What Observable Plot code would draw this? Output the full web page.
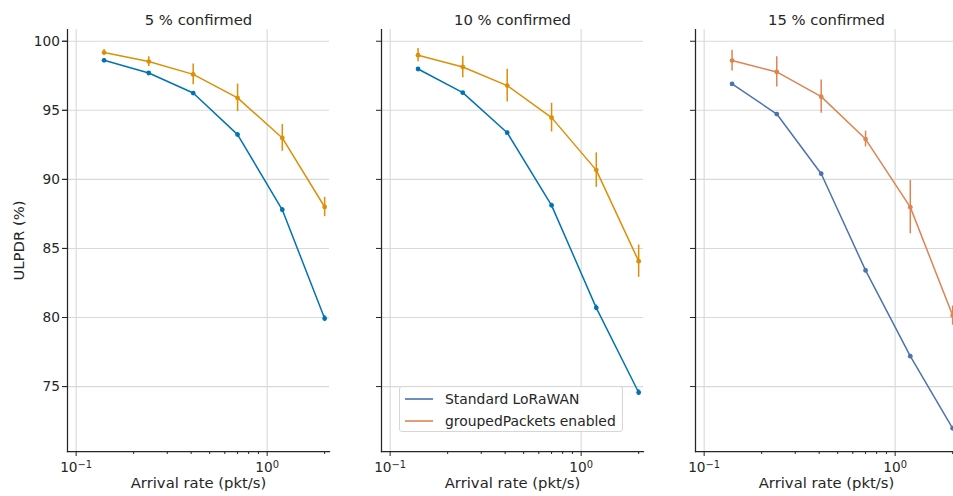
<!DOCTYPE html>
<html>
<head>
<meta charset="utf-8">
<script src="https://cdn.jsdelivr.net/npm/d3@7"></script>
<script src="https://cdn.jsdelivr.net/npm/@observablehq/plot@0.6"></script>
<style>
  html, body { margin: 0; padding: 0; background: #fff; overflow: hidden; }
  #wrap { position: relative; width: 953px; height: 496px; overflow: hidden; font-family: "DejaVu Sans", sans-serif; }
  #wrap > svg { max-width: none !important; }
  #legend { position: absolute; left: 399px; top: 386px; width: 222px; height: 44px;
    border: 1px solid #d6d6d6; border-radius: 3px; background: rgba(255,255,255,0.85);
    font-size: 13.9px; color: #262626; }
  .item { position: absolute; left: 0; height: 20px; width: 100%; }
  .sw { position: absolute; left: 5px; top: 0; }
  .lab { position: absolute; left: 45px; top: 1px; white-space: nowrap; line-height: 18px; }
</style>
</head>
<body>
<div id="wrap"></div>
<script>
// ---- data ----
const confirmedPct = [5, 10, 15];
const seriesNames = ["Standard LoRaWAN", "groupedPackets enabled"];
const rates = [0.14, 0.24, 0.41, 0.7, 1.2, 2.0];

const std5 = [98.62, 97.70, 96.25, 93.24, 87.80, 79.93];
const std5Err = [0.10, 0.10, 0.10, 0.15, 0.15, 0.20];
const grp5 = [99.18, 98.53, 97.60, 95.90, 93.00, 88.00];
const grp5Err = [0.22, 0.35, 0.75, 1.00, 0.97, 0.70];

const std10 = [97.99, 96.28, 93.38, 88.12, 80.70, 74.57];
const std10Err = [0.10, 0.10, 0.10, 0.15, 0.20, 0.20];
const grp10 = [98.99, 98.14, 96.79, 94.47, 90.67, 84.08];
const grp10Err = [0.48, 0.78, 1.18, 1.04, 1.25, 1.17];

const std15 = [96.91, 94.73, 90.41, 83.41, 77.20, 71.98];
const std15Err = [0.08, 0.10, 0.10, 0.15, 0.12, 0.15];
const grp15 = [98.60, 97.78, 95.99, 92.92, 87.99, 80.14];
const grp15Err = [0.75, 1.10, 1.20, 0.57, 1.93, 0.70];

const yTicks = [75, 80, 85, 90, 95, 100];
const xMajorTicks = [0.1, 1];
const xMajorExponents = ["\u22121", "0"];
const xMinorTicks = [0.2, 0.3, 0.4, 0.5, 0.6, 0.7, 0.8, 0.9, 2];
const yLabel = "ULPDR (%)";
const xLabel = "Arrival rate (pkt/s)";

// ---- styles ----
const palettes = [["#0173b2", "#de8f05"], ["#0173b2", "#de8f05"], ["#4c72b0", "#dd8452"]];
const legendColors = ["#4c72b0", "#dd8452"];
const ink = "#262626";
const gridColor = "#d9d9d9";

const means = [[std5, grp5], [std10, grp10], [std15, grp15]];
const errs = [[std5Err, grp5Err], [std10Err, grp10Err], [std15Err, grp15Err]];

const rows = [];
confirmedPct.forEach((p, pi) => {
  seriesNames.forEach((s, si) => {
    rates.forEach((r, ri) => {
      const m = means[pi][si][ri], e = errs[pi][si][ri];
      rows.push({panel: p, series: s, rate: r, mean: m, lo: m - e, hi: m + e, color: palettes[pi][si]});
    });
  });
});

const W = 957;
const chart = Plot.plot({
  width: W,
  height: 496,
  marginLeft: 67,
  marginRight: 0,
  marginTop: 29,
  marginBottom: 45,
  style: {fontFamily: "DejaVu Sans, sans-serif", color: ink, background: "transparent", maxWidth: "none"},
  fx: {domain: confirmedPct, paddingInner: 52 / 314, paddingOuter: 0},
  x: {type: "log", domain: [0.0901, 2.12]},
  y: {domain: [70.3, 100.85]},
  marks: [
    Plot.gridX({ticks: xMajorTicks, stroke: gridColor, strokeOpacity: 1, strokeWidth: 1.1}),
    Plot.gridY({ticks: yTicks, stroke: gridColor, strokeOpacity: 1, strokeWidth: 1.1}),
    Plot.frame({anchor: "left", stroke: ink, strokeWidth: 1.25}),
    Plot.frame({anchor: "bottom", stroke: ink, strokeWidth: 1.25}),
    Plot.ruleX(rows, {x: "rate", y1: "lo", y2: "hi", fx: "panel", stroke: "color", strokeWidth: 1.5}),
    Plot.line(rows, {x: "rate", y: "mean", fx: "panel", z: "series", stroke: "color", strokeWidth: 1.5}),
    Plot.dot(rows, {x: "rate", y: "mean", fx: "panel", fill: "color", r: 2.4}),
    Plot.axisY({ticks: yTicks, tickSize: 5, tickPadding: 2.5, fontSize: 13.7, stroke: ink,
      label: yLabel, labelArrow: "none", labelAnchor: "center", labelOffset: 54}),
    Plot.axisY({ticks: yTicks, tickSize: 5, tickFormat: () => "", stroke: ink, label: null, facetAnchor: null}),
    Plot.axisX({ticks: xMajorTicks, tickSize: 5, tickPadding: 6, fontSize: 13.7, stroke: ink, label: null,
      tickFormat: (d) => "10^" + xMajorExponents[xMajorTicks.indexOf(d)]}),
    Plot.axisX({ticks: xMinorTicks, tickSize: 3, tickFormat: () => "", stroke: ink, label: null}),
    Plot.text([xLabel], {frameAnchor: "bottom", dy: 36, fontSize: 14.8, fill: ink}),
    Plot.axisFx({anchor: "top", tickSize: 0, tickPadding: 5, fontSize: 14.8, label: null,
      tickFormat: (d) => `${d} % confirmed`})
  ]
});

chart.querySelectorAll("text").forEach((t) => {
  const s = t.textContent;
  // render exponents as superscripts (like matplotlib mathtext)
  if (/^10\^/.test(s)) {
    const exp = s.slice(3);
    while (t.firstChild) t.removeChild(t.firstChild);
    t.appendChild(document.createTextNode("10"));
    const ts = document.createElementNS("http://www.w3.org/2000/svg", "tspan");
    ts.setAttribute("dy", "-0.42em");
    ts.setAttribute("font-size", "0.72em");
    ts.textContent = exp;
    t.appendChild(ts);
  }
  if (s === yLabel) t.setAttribute("font-size", "14.8");
});

const wrap = document.getElementById("wrap");
wrap.appendChild(chart);

// legend
const NS = "http://www.w3.org/2000/svg";
const legend = document.createElement("div");
legend.id = "legend";
seriesNames.forEach((s, i) => {
  const item = document.createElement("div");
  item.className = "item";
  item.style.top = (2 + i * 22) + "px";
  const sw = document.createElementNS(NS, "svg");
  sw.setAttribute("class", "sw");
  sw.setAttribute("width", "28");
  sw.setAttribute("height", "20");
  const ln = document.createElementNS(NS, "line");
  ln.setAttribute("x1", "0"); ln.setAttribute("x2", "28");
  ln.setAttribute("y1", "10"); ln.setAttribute("y2", "10");
  ln.setAttribute("stroke", legendColors[i]);
  ln.setAttribute("stroke-width", "1.6");
  sw.appendChild(ln);
  const lab = document.createElement("div");
  lab.className = "lab";
  lab.textContent = s;
  item.appendChild(sw);
  item.appendChild(lab);
  legend.appendChild(item);
});
wrap.appendChild(legend);
</script>
</body>
</html>
